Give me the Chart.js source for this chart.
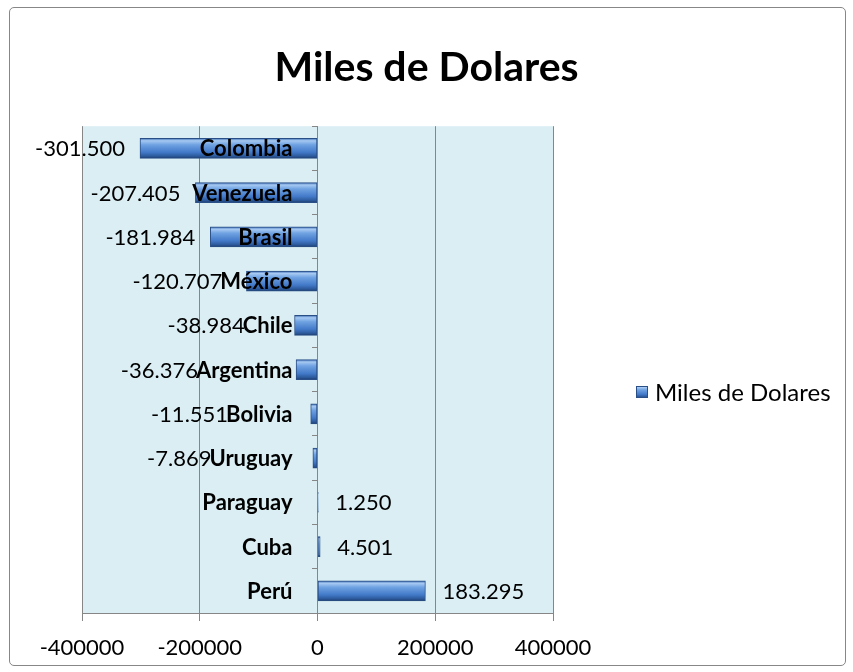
<!DOCTYPE html>
<html>
<head>
<meta charset="utf-8">
<script src="https://cdn.jsdelivr.net/npm/chart.js@4.4.1/dist/chart.umd.min.js"></script>
<style>
  html, body { margin: 0; padding: 0; background: #fff; }
  #frame { position: absolute; left: 9px; top: 7px; width: 835px; height: 657px; border: 1px solid #878787; border-radius: 5px; }
  #wrap { position: absolute; left: 0; top: 0; width: 853px; height: 672px; }
</style>
</head>
<body>
<div id="frame"></div>
<div id="wrap"><canvas id="chart" width="853" height="672"></canvas></div>
<script>
// data
const countries = ['Colombia', 'Venezuela', 'Brasil', 'México', 'Chile', 'Argentina', 'Bolivia', 'Uruguay', 'Paraguay', 'Cuba', 'Perú'];
const values = [-301500, -207405, -181984, -120707, -38984, -36376, -11551, -7869, 1250, 4501, 183295];
const xTicks = [-400000, -200000, 0, 200000, 400000];
const seriesName = 'Miles de Dolares';

Chart.defaults.font.family = 'Lato, "Open Sans", sans-serif';
Chart.defaults.color = '#000';

const CAT_FONT = 'bold 22px Lato';
const CAT_GAP = 25;

// 301500 -> 301.500
function fmt(v) {
  const s = Math.abs(v).toString().replace(/\B(?=(\d{3})+(?!\d))/g, '.');
  return (v < 0 ? '-' : '') + s;
}

function barGradient(ctx, top, bottom) {
  const g = ctx.createLinearGradient(0, top, 0, bottom);
  g.addColorStop(0, '#3c6cb4');
  g.addColorStop(0.12, '#a6c9f2');
  g.addColorStop(0.32, '#6fa2e2');
  g.addColorStop(0.7, '#4279c8');
  g.addColorStop(0.9, '#2b5899');
  g.addColorStop(1, '#1d3d6e');
  return g;
}

const plotBackground = {
  id: 'plotBackground',
  beforeDraw(chart) {
    const { ctx, chartArea: a } = chart;
    ctx.save();
    ctx.fillStyle = '#daeef3';
    ctx.fillRect(a.left, a.top, a.right - a.left, a.bottom - a.top);
    ctx.restore();
  },
};

const valueLabels = {
  id: 'valueLabels',
  afterDatasetsDraw(chart) {
    const { ctx } = chart;
    const meta = chart.getDatasetMeta(0);
    const x0 = chart.scales.x.getPixelForValue(0);
    ctx.save();
    ctx.textBaseline = 'middle';
    ctx.fillStyle = '#000';
    meta.data.forEach((bar, i) => {
      const v = values[i];
      if (v < 0) {
        // short bars: the number moves out past the country name
        ctx.font = CAT_FONT;
        const catLeft = x0 - CAT_GAP - ctx.measureText(countries[i]).width;
        ctx.font = '22px Lato';
        ctx.textAlign = 'right';
        ctx.fillText(fmt(v), Math.min(bar.x - 15, catLeft + 2), bar.y + 1);
      } else {
        ctx.font = '22px Lato';
        ctx.textAlign = 'left';
        ctx.fillText(fmt(v), bar.x + 17, bar.y + 1);
      }
    });
    ctx.restore();
  },
};

// category names sit left of the zero line, on top of the bars
const categoryLabels = {
  id: 'categoryLabels',
  afterDraw(chart) {
    const { ctx } = chart;
    const ys = chart.scales.y;
    const x0 = chart.scales.x.getPixelForValue(0);
    ctx.save();
    ctx.font = CAT_FONT;
    ctx.fillStyle = '#000';
    ctx.textAlign = 'right';
    ctx.textBaseline = 'middle';
    ys.ticks.forEach((t, i) => {
      ctx.fillText(ys.getLabelForValue(t.value), x0 - CAT_GAP, ys.getPixelForTick(i) + 1);
    });
    ctx.restore();
  },
};

const sideLegend = {
  id: 'sideLegend',
  afterDraw(chart) {
    const { ctx } = chart;
    ctx.save();
    ctx.fillStyle = barGradient(ctx, 386, 398);
    ctx.fillRect(636, 386, 12, 12);
    ctx.strokeStyle = '#2a4f86';
    ctx.strokeRect(636.5, 386.5, 11, 11);
    ctx.font = '24px Lato';
    ctx.fillStyle = '#000';
    ctx.textAlign = 'left';
    ctx.textBaseline = 'middle';
    ctx.fillText(chart.data.datasets[0].label, 655, 393);
    ctx.restore();
  },
};

const canvas = document.getElementById('chart');
const chart = new Chart(canvas, {
  type: 'bar',
  data: {
    labels: countries,
    datasets: [
      {
        label: seriesName,
        data: values,
        yAxisID: 'y',
        barThickness: 20,
        borderWidth: 1,
        borderColor: '#2a4f86',
        borderSkipped: false,
        backgroundColor(c) {
          const ch = c.chart;
          if (!ch.chartArea || c.type !== 'data') return '#4f81bd';
          const y = ch.scales.y.getPixelForValue(c.dataIndex);
          return barGradient(ch.ctx, y - 10, y + 10);
        },
      },
    ],
  },
  options: {
    responsive: false,
    animation: false,
    indexAxis: 'y',
    layout: {
      padding: { left: 82, right: 82, top: 0, bottom: 0 },
    },
    scales: {
      x: {
        min: -400000,
        max: 400000,
        afterBuildTicks(s) { s.ticks = xTicks.map(v => ({ value: v })); },
        afterFit(s) { s.height = 59; },
        grid: { color: '#868686', tickLength: 8 },
        border: { color: '#868686' },
        ticks: {
          font: { size: 22 },
          padding: 14,
          maxRotation: 0,
          callback: v => String(v),
        },
      },
      y: {
        position: { x: 0 },
        grid: { drawOnChartArea: false, color: '#868686', tickLength: 5, offset: true },
        border: { color: '#868686' },
        ticks: { display: false },
      },
      // empty box on the right, leaves room for the legend
      legendRoom: {
        type: 'linear',
        axis: 'y',
        position: 'right',
        grid: { display: false },
        border: { display: false },
        ticks: { display: false },
        afterFit(s) { s.width = 218; },
      },
    },
    plugins: {
      legend: { display: false },
      tooltip: { enabled: false },
      title: {
        display: true,
        text: seriesName,
        font: { size: 41, weight: 'bold', lineHeight: 1.2 },
        padding: { top: 43, bottom: 34 },
      },
    },
  },
  plugins: [plotBackground, valueLabels, categoryLabels, sideLegend],
});
</script>
</body>
</html>
